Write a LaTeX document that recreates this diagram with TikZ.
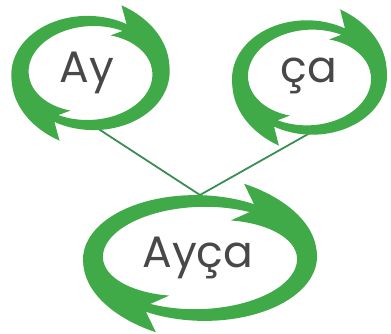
\documentclass[tikz,border=0pt]{standalone}
\usepackage{fontspec}
\setmainfont{Poppins}
\definecolor{ringgreen}{RGB}{64,170,72}
\definecolor{linkgreen}{RGB}{58,142,84}
\definecolor{inkgray}{RGB}{72,72,72}

% one arrow of a ring: centre, radii, band, outer barb, inner barb, barb angle
\newcommand{\ringarrow}[8]{%
  \pgfmathsetmacro{\ta}{#8-125}% tail, hidden under the other head
  \pgfmathsetmacro{\tn}{#8+9}%   notch
  \pgfmathsetmacro{\te}{#8+65}%  end of the head
  \pgfmathsetmacro{\he}{1.35*#5/2}% half band at the tail
  \fill[ringgreen]
    plot[domain=\ta:\tn, samples=40, variable=\t]
      ({#1+(#3+#5/2*(1.35-0.75*max(0,\t-\ta-12)/122))*cos(\t)},
       {#2+(#4+#5/2*(1.35-0.75*max(0,\t-\ta-12)/122))*sin(\t)})
    -- plot[domain=#8:\te, samples=30, variable=\t]
      ({#1+(#3+\he+(#6-\he)*(1-(\t-#8)/65)^1.2)*cos(\t)},
       {#2+(#4+\he+(#6-\he)*(1-(\t-#8)/65)^1.2)*sin(\t)})
    -- plot[domain=\te:#8, samples=30, variable=\t]
      ({#1+(#3-\he-(#7-\he)*(1-(\t-#8)/65)^1.2)*cos(\t)},
       {#2+(#4-\he-(#7-\he)*(1-(\t-#8)/65)^1.2)*sin(\t)})
    -- plot[domain=\tn:\ta, samples=40, variable=\t]
      ({#1+(#3-#5/2*(1.35-0.75*max(0,\t-\ta-12)/122))*cos(\t)},
       {#2+(#4-#5/2*(1.35-0.75*max(0,\t-\ta-12)/122))*sin(\t)})
    -- cycle;
}

\begin{document}
\begin{tikzpicture}[x=1pt,y=-1pt,
    word/.style={text=inkgray,inner sep=0pt,anchor=base,font=\fontsize{44}{48}\selectfont},
    link/.style={draw=linkgreen,line width=1.8pt}]
  \useasboundingbox (0,0) rectangle (391,334);
  % where the links meet the rings
  \coordinate (ay-foot) at (97,128);
  \coordinate (ca-foot) at (310,133);
  \coordinate (ayca-top) at (200,195);
  \draw[link] (ay-foot) -- (ayca-top);
  \draw[link] (ca-foot) -- (ayca-top);
  % the rings, two arrows each
  \foreach \cx/\cy/\rx/\ry/\bw/\ho/\hi in {90.5/73/70.5/52/13/20/12,
      309.5/77.5/69.5/52.5/12/20/12, 200/258/107/57/15/22/17}{
    \ringarrow{\cx}{\cy}{\rx}{\ry}{\bw}{\ho}{\hi}{290}
    \ringarrow{\cx}{\cy}{\rx}{\ry}{\bw}{\ho}{\hi}{110}
  }
  \node[word] (ay) at (87,83) {Ay};
  \node[word] (ca) at (309,83) {ça};
  \node[word] (ayca) at (198,267) {Ayça};
\end{tikzpicture}
\end{document}
